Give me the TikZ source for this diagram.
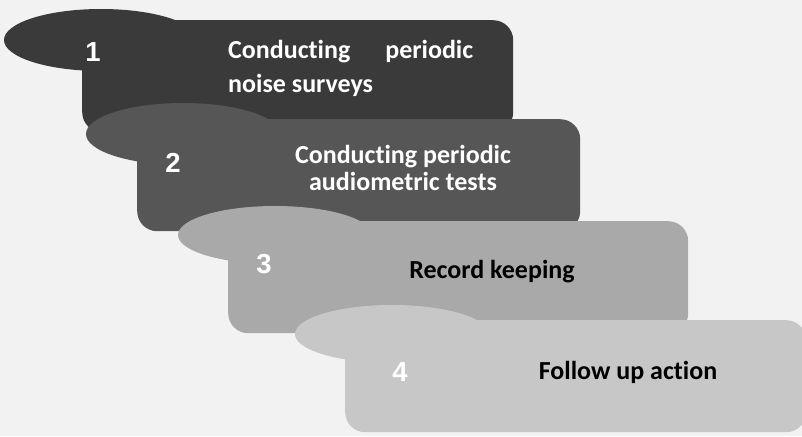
\documentclass[tikz,border=0pt]{standalone}
\usepackage{fontspec}
\setmainfont{Carlito}[Ligatures=NoCommon]
\newfontfamily\numfont{Liberation Sans}
\usepackage{tikz}
\usetikzlibrary{shapes}
\definecolor{bgcol}{HTML}{F2F2F2}
\definecolor{shadeone}{HTML}{3A3A3A}
\definecolor{shadetwo}{HTML}{565656}
\definecolor{shadethree}{HTML}{A9A9A9}
\definecolor{shadefour}{HTML}{C7C7C7}
\tikzstyle{bubble}   = [ellipse, minimum width=194pt, minimum height=62pt, inner sep=0pt]
\tikzstyle{panel}    = [rectangle, rounded corners=20pt, inner sep=0pt, anchor=north west, minimum height=112pt]
\tikzstyle{num}      = [text=white, font=\numfont\bfseries\fontsize{27.5}{28}\selectfont, anchor=base, inner sep=0pt]
\tikzstyle{steptext} = [font=\bfseries\fontsize{26}{33}\selectfont, inner sep=0pt]

\begin{document}
\begin{tikzpicture}[x=1pt, y=-1pt]
    \path[use as bounding box, fill=bgcol] (0,0) rectangle (802,436);
    % step 1
    \node[bubble, fill=shadeone](e1) at (101,40){};
    \node[panel, fill=shadeone, minimum width=431pt](b1) at (82,20){};
    \node[num](n1) at (93,62){1};
    \node[steptext, text=white, align=left, anchor=base west](t1) at (228,92){\makebox[245pt][s]{Conducting\hfill periodic}\\noise surveys};
    % step 2
    \node[bubble, fill=shadetwo](e2) at (183,134){};
    \node[panel, fill=shadetwo, minimum width=443pt](b2) at (137,119){};
    \node[num](n2) at (173,172){2};
    \node[steptext, text=white, align=center, font=\bfseries\fontsize{26}{27}\selectfont, anchor=base](t2) at (403,190){Conducting periodic\\audiometric tests};
    % step 3
    \node[bubble, fill=shadethree, minimum height=58pt](e3) at (275,235){};
    \node[panel, fill=shadethree, minimum width=460pt](b3) at (228,221){};
    \node[num](n3) at (264,273){3};
    \node[steptext, anchor=base](t3) at (492,278){Record keeping};
    % step 4
    \node[bubble, fill=shadefour, minimum height=58pt](e4) at (392,334){};
    \node[panel, fill=shadefour, minimum width=461pt](b4) at (345,320){};
    \node[num](n4) at (400,381){4};
    \node[steptext, anchor=base](t4) at (628,379){Follow up action};
\end{tikzpicture}
\end{document}
